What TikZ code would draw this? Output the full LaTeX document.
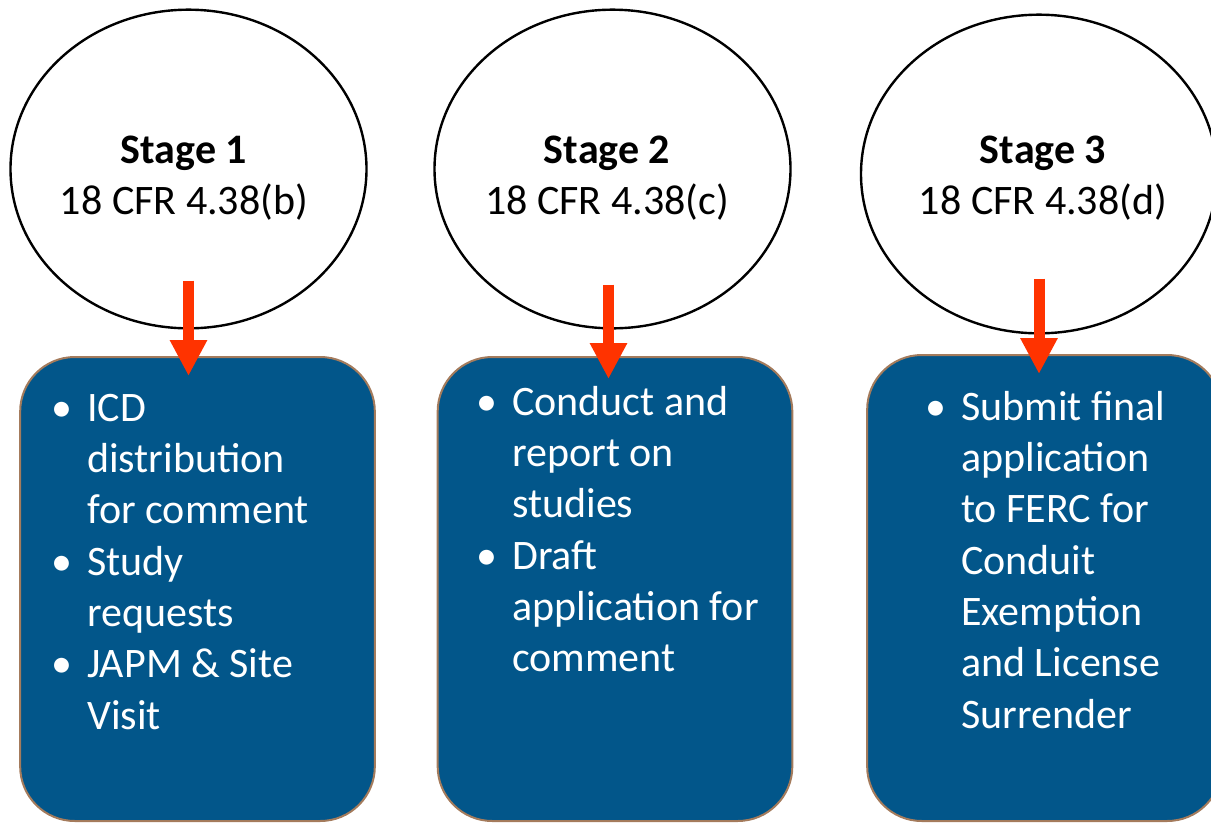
\documentclass[tikz,border=0pt]{standalone}
\usepackage{fontspec}
\setmainfont{Carlito}
\usetikzlibrary{arrows.meta,calc,shapes.geometric}
\definecolor{boxblue}{HTML}{02568A}
\definecolor{boxrim}{HTML}{A47B5C}
\definecolor{arrowred}{HTML}{FF3300}
\newcommand\taskbullet{\makebox[27pt][l]{\textbullet}}

\begin{document}
\begin{tikzpicture}[x=0.75pt, y=-0.75pt,
  stage/.style={ellipse, draw, line width=1.8pt, minimum width=267pt, minimum height=239pt, inner sep=0},
  task/.style={draw=boxrim, fill=boxblue, line width=1.5pt, rounded corners=41pt,
    minimum width=266pt, minimum height=348pt, inner sep=0},
  stagetext/.style={anchor=base, inner sep=0, font=\fontsize{31.5pt}{38.8pt}\selectfont},
  tasktext/.style={anchor=base west, inner sep=0, text=white, font=\fontsize{31.5pt}{38.5pt}\selectfont},
  flow/.style={draw=arrowred, line width=8.25pt, -{Triangle[width=26.25pt, length=27pt]}}]
  \useasboundingbox (0, 0) rectangle (1211, 822);

  \node[stage] (s1) at (188.5, 169) {};
  \node[stage] (s2) at (612.5, 169) {};
  \node[stage] (s3) at (1039, 174) {};

  \node[stagetext] (t1) at (184, 163) {\begin{tabular}[t]{@{}c@{}}\textbf{Stage 1}\\18 CFR 4.38(b)\end{tabular}};
  \node[stagetext] (t2) at (607, 163) {\begin{tabular}[t]{@{}c@{}}\textbf{Stage 2}\\18 CFR 4.38(c)\end{tabular}};
  \node[stagetext] (t3) at (1043, 163) {\begin{tabular}[t]{@{}c@{}}\textbf{Stage 3}\\18 CFR 4.38(d)\end{tabular}};

  \node[task] (b1) at (197.5, 589) {};
  \node[task] (b2) at (615, 589) {};
  \node[task, minimum height=349.5pt] (b3) at (1044.5, 588) {};

  \node[tasktext] (l1) at (51, 421) {\begin{tabular}[t]{@{}l@{}l@{}}
    \taskbullet & ICD\\ & distribution\\ & for comment\\
    \taskbullet & Study\\ & requests\\
    \taskbullet & JAPM \& Site\\ & Visit\end{tabular}};
  \node[tasktext] (l2) at (476, 415) {\begin{tabular}[t]{@{}l@{}l@{}}
    \taskbullet & Conduct and\\ & report on\\ & studies\\
    \taskbullet & Draft\\ & application for\\ & comment\end{tabular}};
  \node[tasktext] (l3) at (925, 420) {\begin{tabular}[t]{@{}l@{}l@{}}
    \taskbullet & Submit final\\ & application\\ & to FERC for\\ & Conduit\\
    & Exemption\\ & and License\\ & Surrender\end{tabular}};

  \draw[flow] ($(s1.south)+(0, -49)$) -- ($(s1.south |- b1.north)+(0, 20)$);
  \draw[flow] ($(s2.south)+(-4, -45)$) -- ($(s2.south |- b2.north)+(-4, 23)$);
  \draw[flow] ($(s3.south)+(0, -56)$) -- ($(s3.south |- b3.north)+(0, 20)$);
\end{tikzpicture}
\end{document}
